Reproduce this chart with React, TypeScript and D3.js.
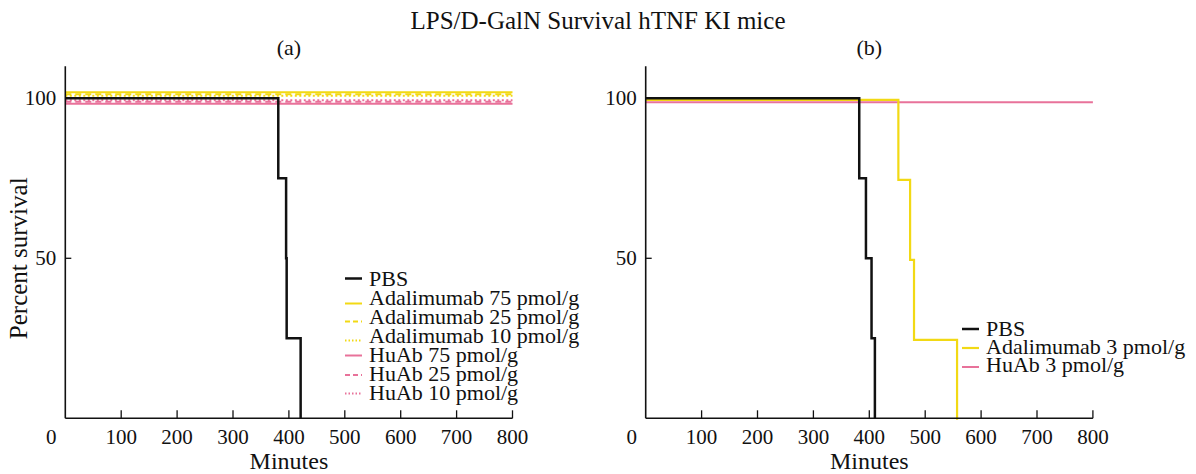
import React from 'react';
import * as d3 from 'd3';

// ---- data ----
const xTickValues = [100, 200, 300, 400, 500, 600, 700, 800];
const yTickValues = [50, 100];

// Panel (a)
const pbsATime = [0, 381, 395, 396, 421];
const pbsASurv = [100, 75, 50, 25, 0];
const flatTime = [0, 800];
const flatSurv = [100, 100];

// Panel (b)
const pbsBTime = [0, 382, 394, 404, 410];
const pbsBSurv = [100, 75, 50, 25, 0];
const adalBTime = [0, 452, 473, 480, 557];
const adalBSurv = [100, 75, 50, 25, 0];
const huabBTime = [0, 800];
const huabBSurv = [100, 100];

const legendA = [
  'PBS',
  'Adalimumab 75 pmol/g',
  'Adalimumab 25 pmol/g',
  'Adalimumab 10 pmol/g',
  'HuAb 75 pmol/g',
  'HuAb 25 pmol/g',
  'HuAb 10 pmol/g',
];
const legendB = ['PBS', 'Adalimumab 3 pmol/g', 'HuAb 3 pmol/g'];

// ---- style ----
const BLACK = '#111111';
const YELLOW = '#f2d914';
const PINK = '#e8729a';
const FONT = '"Liberation Serif", "Times New Roman", Times, serif';

type Series = {
  time: number[];
  surv: number[];
  color: string;
  width: number;
  dash?: string;
  off: number; // visual vertical stagger in px
  swatchOff: number;
};

const seriesA: Series[] = [
  { time: flatTime, surv: flatSurv, color: YELLOW, width: 2, off: -6, swatchOff: 6 },
  { time: flatTime, surv: flatSurv, color: YELLOW, width: 2, dash: '6,4', off: -4, swatchOff: 5 },
  { time: flatTime, surv: flatSurv, color: YELLOW, width: 2, dash: '2,2.5', off: -2.5, swatchOff: 5 },
  { time: flatTime, surv: flatSurv, color: PINK, width: 2, off: 5.5, swatchOff: 1 },
  { time: flatTime, surv: flatSurv, color: PINK, width: 2, dash: '6,4', off: 3.5, swatchOff: 1.5 },
  { time: flatTime, surv: flatSurv, color: PINK, width: 2, dash: '2,2.5', off: 2, swatchOff: 1 },
  { time: pbsATime, surv: pbsASurv, color: BLACK, width: 2.5, off: 0, swatchOff: 0 },
];
// legend order for A: PBS, Ad75, Ad25, Ad10, Hu75, Hu25, Hu10
const legendAOrder = [6, 0, 1, 2, 3, 4, 5];

const seriesB: Series[] = [
  { time: huabBTime, surv: huabBSurv, color: PINK, width: 2, off: 4, swatchOff: 2 },
  { time: adalBTime, surv: adalBSurv, color: YELLOW, width: 2.2, off: 1.5, swatchOff: 1 },
  { time: pbsBTime, surv: pbsBSurv, color: BLACK, width: 2.5, off: 0, swatchOff: 0 },
];
const legendBOrder = [2, 1, 0];

const W = 1196;
const H = 474;

type PanelProps = {
  left: number;
  label: string;
  series: Series[];
  legend: string[];
  legendOrder: number[];
  legendX: number;
  legendY: number;
  legendStep: number;
  showYTitle: boolean;
};

const Panel: React.FC<PanelProps> = ({ left, label, series, legend, legendOrder, legendX, legendY, legendStep, showYTitle }) => {
  const width = 447.2;
  const bottom = 418.3;
  const x = d3.scaleLinear().domain([0, 800]).range([left, left + width]);
  const y = d3.scaleLinear().domain([0, 110]).range([bottom, bottom - 110 * 3.2]);

  const makePath = (s: Series) => {
    const pts: [number, number][] = s.time.map((t, i) => [t, s.surv[i]]);
    const line = d3
      .line<[number, number]>()
      .x((d) => x(d[0]))
      .y((d) => y(d[1]) + s.off)
      .curve(d3.curveStepAfter);
    return line(pts) || '';
  };

  return (
    <g>
      <text x={(x(0) + x(800)) / 2} y={55} textAnchor="middle" fontSize={22} fontFamily={FONT} fill="#111">
        {label}
      </text>
      {/* data lines */}
      {series.map((s, i) => (
        <path
          key={i}
          d={makePath(s)}
          fill="none"
          stroke={s.color}
          strokeWidth={s.width}
          strokeDasharray={s.dash}
          strokeLinejoin="miter"
          strokeLinecap="butt"
        />
      ))}
      {/* axes */}
      <line x1={x(0)} x2={x(0)} y1={y(0)} y2={y(110)} stroke="#111" strokeWidth={1.6} />
      <line x1={x(0)} x2={x(800)} y1={y(0)} y2={y(0)} stroke="#111" strokeWidth={1.6} />
      {xTickValues.map((t) => (
        <g key={t}>
          <line x1={x(t)} x2={x(t)} y1={y(0)} y2={y(0) - 8} stroke="#111" strokeWidth={1.3} />
          <text x={x(t)} y={444} textAnchor="middle" fontSize={21} fontFamily={FONT} fill="#111">
            {t}
          </text>
        </g>
      ))}
      <text x={x(0) - 14} y={444} textAnchor="middle" fontSize={21} fontFamily={FONT} fill="#111">
        0
      </text>
      {yTickValues.map((t) => (
        <g key={t}>
          <line x1={x(0)} x2={x(0) + 6} y1={y(t)} y2={y(t)} stroke="#111" strokeWidth={1.3} />
          <text x={x(0) - 9} y={y(t) + 7} textAnchor="end" fontSize={21} fontFamily={FONT} fill="#111">
            {t}
          </text>
        </g>
      ))}
      <text x={(x(0) + x(800)) / 2} y={469} textAnchor="middle" fontSize={24} fontFamily={FONT} fill="#111">
        Minutes
      </text>
      {showYTitle && (
        <text
          transform={`translate(${27},${y(50)}) rotate(-90)`}
          textAnchor="middle"
          fontSize={25}
          fontFamily={FONT}
          fill="#111"
        >
          Percent survival
        </text>
      )}
      {/* legend */}
      {legendOrder.map((si, i) => {
        const s = series[si];
        const cy = legendY + i * legendStep;
        return (
          <g key={i}>
            <line
              x1={legendX}
              x2={legendX + 17}
              y1={cy + s.swatchOff}
              y2={cy + s.swatchOff}
              stroke={s.color}
              strokeWidth={s.width}
              strokeDasharray={s.dash ? (s.dash === '6,4' ? '5,3' : '1.5,2') : undefined}
            />
            <text x={legendX + 24} y={cy + 7} fontSize={22} fontFamily={FONT} fill="#111">
              {legend[i]}
            </text>
          </g>
        );
      })}
    </g>
  );
};

export default function App() {
  return (
    <svg
      width={W}
      height={H}
      viewBox={`0 0 ${W} ${H}`}
      style={{ position: 'absolute', left: 0, top: 0, background: '#fff' }}
    >
      <rect x={0} y={0} width={W} height={H} fill="#fff" />
      <text x={W / 2} y={29} textAnchor="middle" fontSize={25} fontFamily={FONT} fill="#111">
        LPS/D-GalN Survival hTNF KI mice
      </text>
      <Panel
        left={65.3}
        label="(a)"
        series={seriesA}
        legend={legendA}
        legendOrder={legendAOrder}
        legendX={345}
        legendY={278.5}
        legendStep={19}
        showYTitle={true}
      />
      <Panel
        left={645.7}
        label="(b)"
        series={seriesB}
        legend={legendB}
        legendOrder={legendBOrder}
        legendX={962}
        legendY={329}
        legendStep={18}
        showYTitle={false}
      />
    </svg>
  );
}
